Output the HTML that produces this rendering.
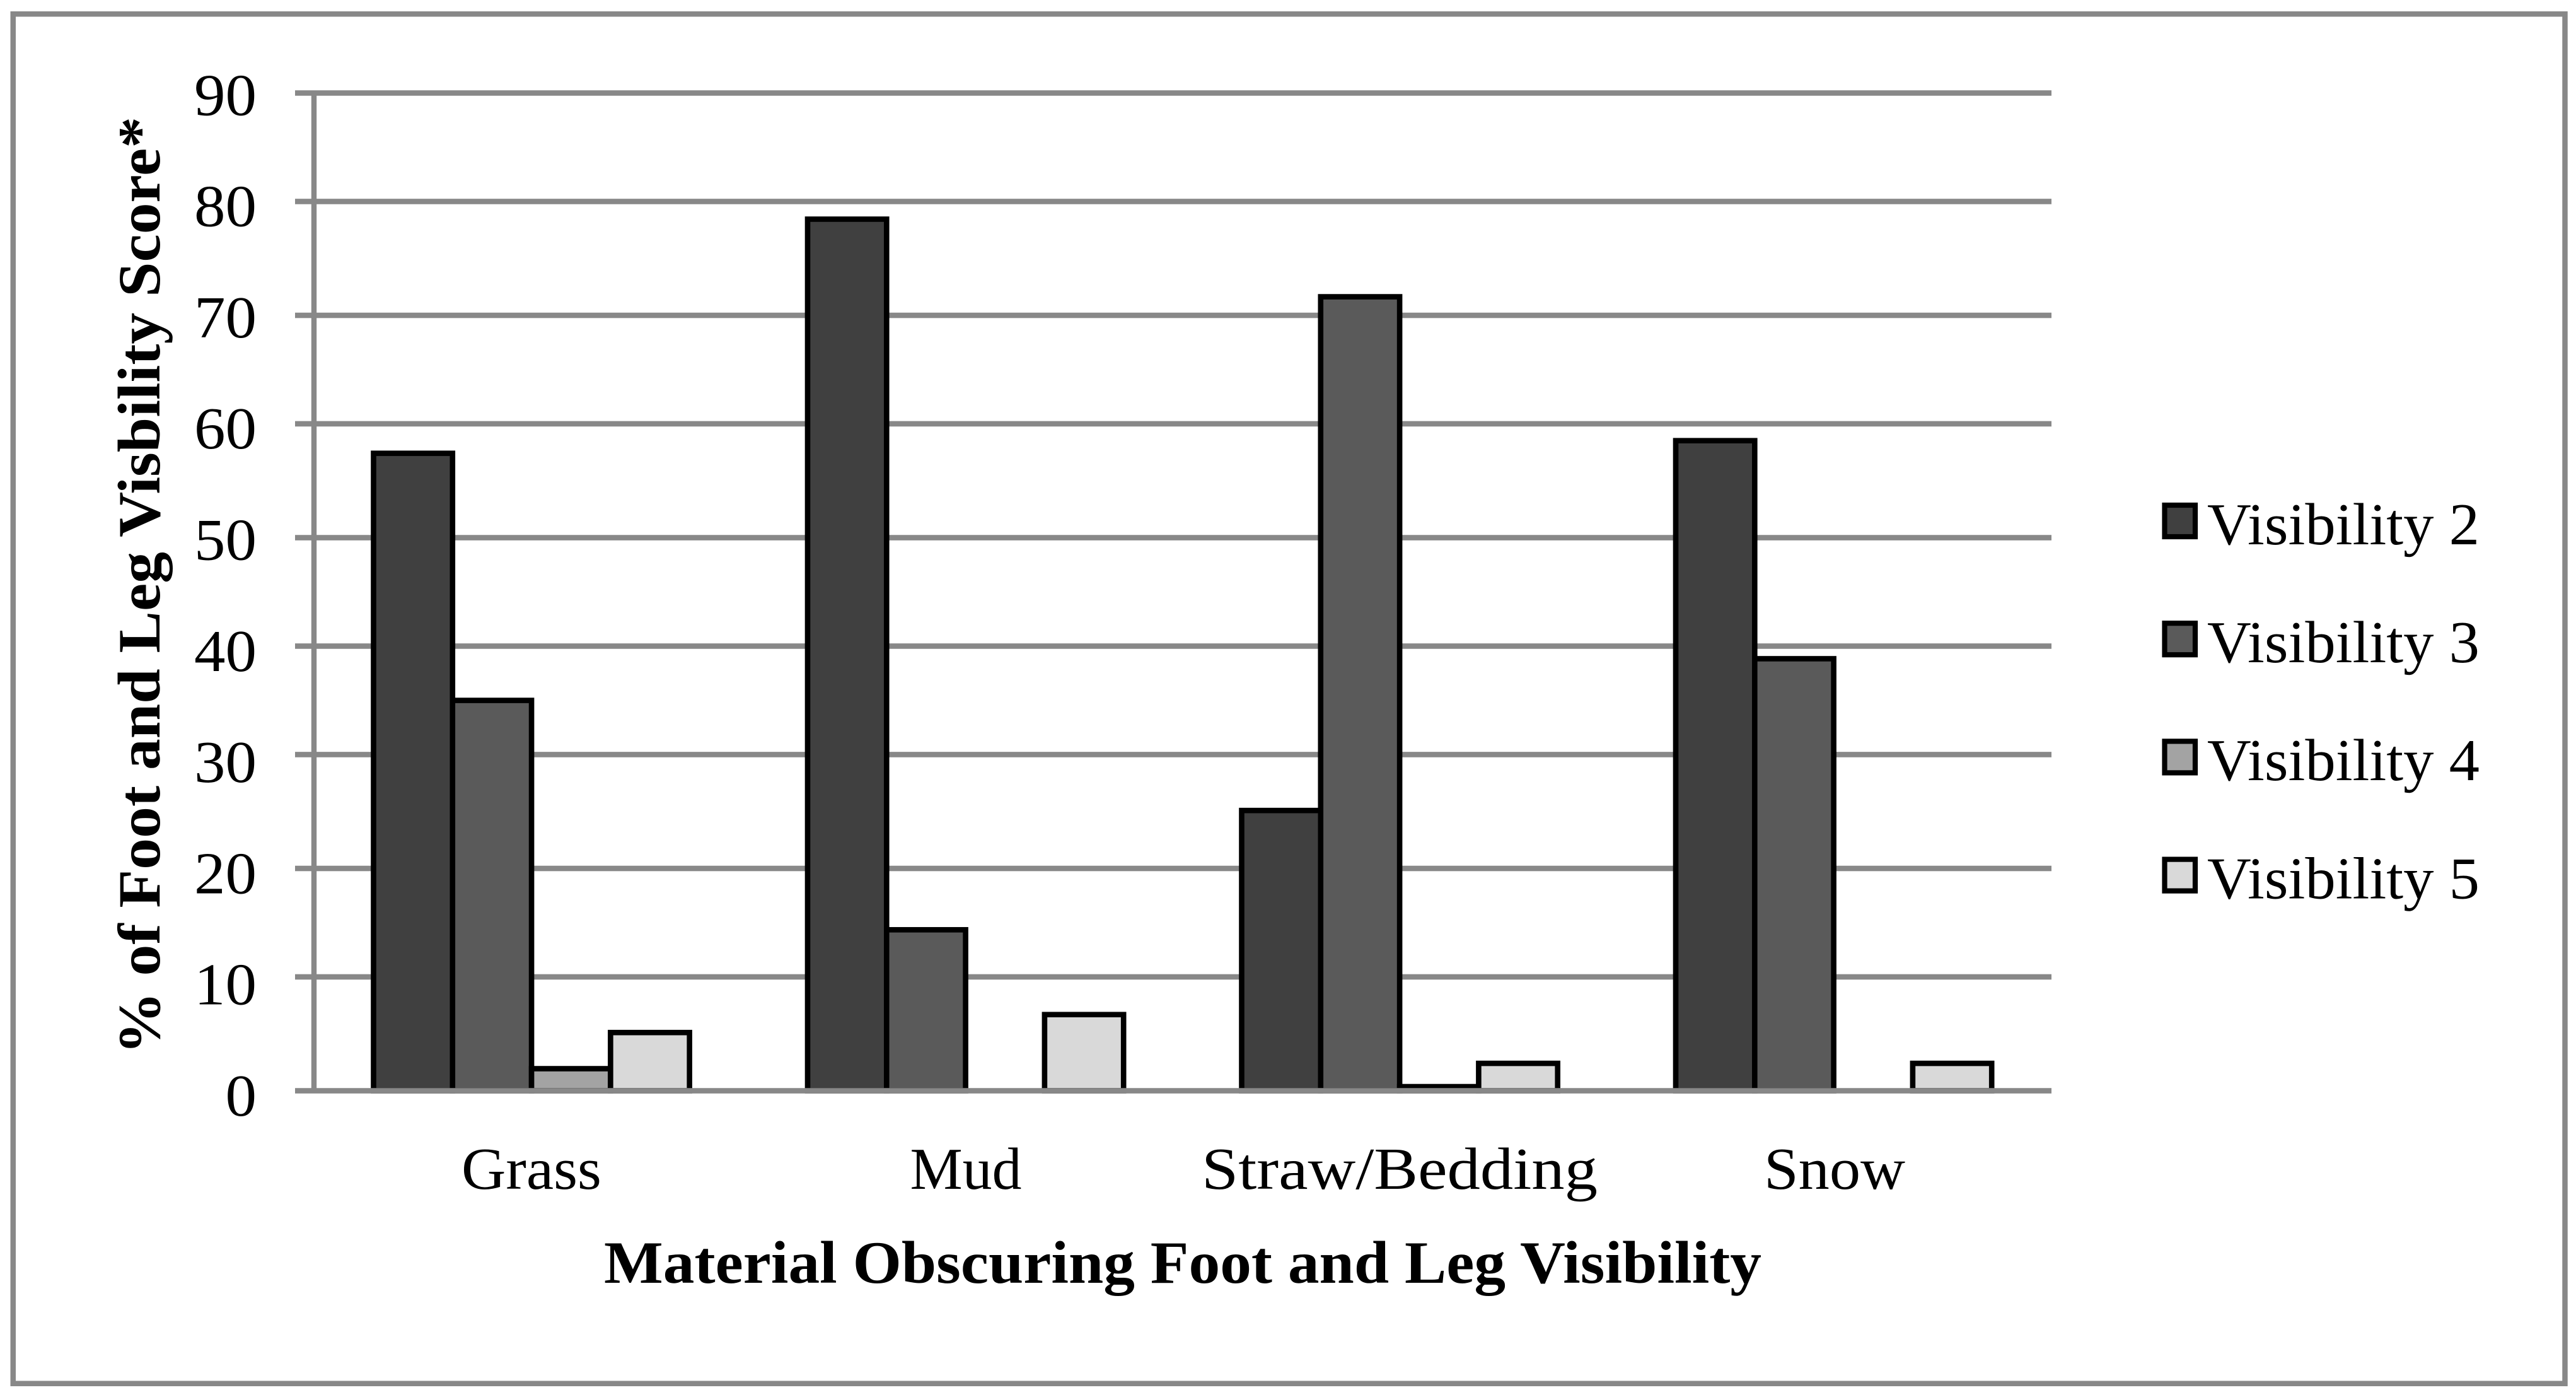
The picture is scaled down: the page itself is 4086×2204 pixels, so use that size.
<!DOCTYPE html>
<html lang="en">
<head>
<meta charset="utf-8">
<title>Material Obscuring Foot and Leg Visibility</title>
<style>
  html, body { margin: 0; padding: 0; background: #ffffff; }
  body { width: 4086px; height: 2204px; overflow: hidden; }
  svg { display: block; }
  text { font-family: "Liberation Serif", "DejaVu Serif", serif; fill: #000000; font-size: 94px; }
  .bold { font-weight: bold; font-size: 95px; }
</style>
</head>
<body>
<svg id="chart" xmlns="http://www.w3.org/2000/svg" width="4086" height="2204" viewBox="0 0 4086 2204">
  <rect x="0" y="0" width="4086" height="2204" fill="#ffffff"/>
  <rect x="20.75" y="22.25" width="4047.75" height="2171.5" fill="#ffffff" stroke="#888888" stroke-width="8.5"/>
  <g id="grid"></g>
  <g id="bars"></g>
  <g id="axis"></g>
  <g id="labels"></g>
  <g id="legend"></g>
  <text class="bold" transform="translate(253,1672) rotate(-90)" x="0" y="0" textLength="1487" lengthAdjust="spacingAndGlyphs">% of Foot and Leg Visbility Score*</text>
  <text class="bold" x="958" y="2034" textLength="1836" lengthAdjust="spacingAndGlyphs">Material Obscuring Foot and Leg Visibility</text>
</svg>
<script>
const categories = ["Grass", "Mud", "Straw/Bedding", "Snow"];
const seriesNames = ["Visibility 2", "Visibility 3", "Visibility 4", "Visibility 5"];
const visibility2 = [57.5, 78.62, 25.28, 58.64];
const visibility3 = [35.21, 14.52, 71.62, 38.97];
const visibility4 = [1.99, 0, 0.37, 0];
const visibility5 = [5.25, 6.87, 2.47, 2.47];
const yTicks = [0, 10, 20, 30, 40, 50, 60, 70, 80, 90];
const seriesValues = [visibility2, visibility3, visibility4, visibility5];
const seriesColors = ["#404040", "#5a5a5a", "#a3a3a3", "#d9d9d9"];

const NS = "http://www.w3.org/2000/svg";
const plotLeft = 498, plotRight = 3254, tickLeft = 468;
const y0 = 1729.5, pxPerUnit = 17.578;
const groupStart = 592.5, groupStep = 688.5, barWidth = 125.3;
const lineWidth = 8.6, axisGrey = "#888888";

function yScale(v) { return y0 - v * pxPerUnit; }
// gridlines in the source sit on a coarse raster (one source pixel = 8.598 px)
function gridY(v) { return 147.5 + Math.floor((90 - v) * 2.04444 + 0.3) * 8.598; }
function xScale(groupIndex, seriesIndex) { return groupStart + groupIndex * groupStep + seriesIndex * barWidth; }
function tickLabelY(v) { return 1769 - v * 17.63; }

function make(tag, attrs, parent) {
  const el = document.createElementNS(NS, tag);
  for (const k in attrs) el.setAttribute(k, attrs[k]);
  parent.appendChild(el);
  return el;
}

const grid = document.getElementById("grid");
const bars = document.getElementById("bars");
const axis = document.getElementById("axis");
const labels = document.getElementById("labels");
const legend = document.getElementById("legend");

yTicks.forEach(function (t) {
  if (t === 0) return;
  const line = make("rect", { x: tickLeft, y: gridY(t) - lineWidth / 2, width: plotRight - tickLeft, height: lineWidth, fill: axisGrey }, grid);
  
  
});

const yAxisLine = make("rect", { x: plotLeft - 4.2, y: gridY(90), width: 8.4, height: gridY(0) - gridY(90), fill: axisGrey }, grid);



seriesValues.forEach(function (values, s) {
  values.forEach(function (v, c) {
    if (v <= 0) return;
    const bar = make("rect", {
      x: xScale(c, s),
      y: yScale(v),
      width: barWidth,
      height: y0 - yScale(v),
      fill: seriesColors[s],
      stroke: "#000000",
      "stroke-width": lineWidth
    }, bars);
    
    
  });
});

const xAxisLine = make("rect", { x: tickLeft, y: gridY(0) - lineWidth / 2, width: plotRight - tickLeft, height: lineWidth, fill: axisGrey }, axis);



yTicks.forEach(function (t) {
  const text = String(t);
  const label = make("text", {
    x: 407,
    y: tickLabelY(t),
    "text-anchor": "end",
    textLength: 49.5 * text.length,
    lengthAdjust: "spacingAndGlyphs"
  }, labels);
  label.textContent = text;
  
  
});

const categoryCenters = [843, 1532, 2220, 2910];
const categoryWidths = [222, 177, 628, 224];
categories.forEach(function (name, c) {
  const label = make("text", {
    x: categoryCenters[c],
    y: 1885,
    "text-anchor": "middle",
    textLength: categoryWidths[c],
    lengthAdjust: "spacingAndGlyphs"
  }, labels);
  label.textContent = name;
  
  
});

seriesNames.forEach(function (name, i) {
  const cy = 826 + i * 187.2;
  const swatch = make("rect", { x: 3433.5, y: cy - 25, width: 48.5, height: 50, fill: seriesColors[i], stroke: "#000000", "stroke-width": 8.2 }, legend);
  
  
  const label = make("text", { x: 3501, y: cy + 36.8, textLength: 432, lengthAdjust: "spacingAndGlyphs" }, legend);
  label.textContent = name;
  
  
});
</script>
</body>
</html>
